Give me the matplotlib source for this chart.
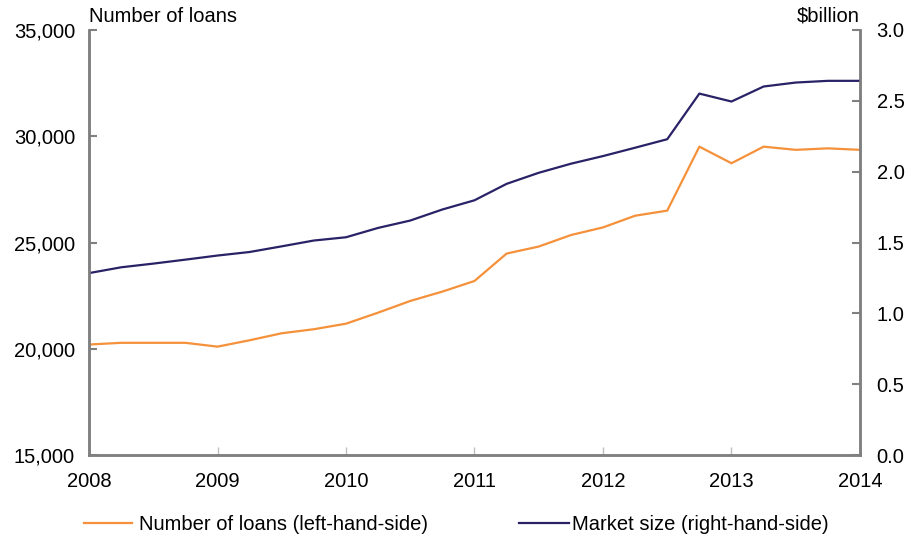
import matplotlib
matplotlib.use('Agg')
import matplotlib.pyplot as plt
import numpy as np

plt.rcParams['font.family'] = ['Liberation Sans', 'DejaVu Sans']

# quarterly observations, 2008 Q1 .. 2014 Q1
quarters = [2008 + 0.25 * i for i in range(25)]
loans = [20200, 20280, 20280, 20280, 20100, 20400, 20730, 20920, 21180,
         21700, 22250, 22690, 23190, 24480, 24810, 25350, 25710, 26260,
         26500, 29510, 28730, 29510, 29360, 29430, 29360]
market = [1.284, 1.325, 1.351, 1.379, 1.408, 1.433, 1.473, 1.514, 1.537,
          1.603, 1.655, 1.733, 1.798, 1.914, 1.992, 2.056, 2.110, 2.169,
          2.229, 2.551, 2.495, 2.601, 2.629, 2.641, 2.641]
years = [2008, 2009, 2010, 2011, 2012, 2013, 2014]
left_ticks = [15000, 20000, 25000, 30000, 35000]
right_ticks = [0.0, 0.5, 1.0, 1.5, 2.0, 2.5, 3.0]

orange = '#F5913A'
navy = '#2A2266'
grey = '#808080'
fs = 14.5

fig = plt.figure(figsize=(9.11, 5.43), dpi=100)
ax = fig.add_axes([0.0977, 0.162, 0.8463, 0.7828])
ax2 = ax.twinx()

l1, = ax.plot(quarters, loans, color=orange, lw=1.6, label='Number of loans (left-hand-side)')
l2, = ax2.plot(quarters, market, color=navy, lw=1.6, label='Market size (right-hand-side)')

ax.set_xlim(2008, 2014)
ax.set_ylim(15000, 35000)
ax2.set_ylim(0, 3.0)
ax.set_xticks(years)
ax.set_yticks(left_ticks)
ax.set_yticklabels([f'{v:,}' for v in left_ticks])
ax2.set_yticks(right_ticks)
ax2.set_yticklabels([f'{v:.1f}' for v in right_ticks])

for a in (ax, ax2):
    a.spines['top'].set_visible(False)
    for s in ('left', 'right', 'bottom'):
        a.spines[s].set_color(grey)
        a.spines[s].set_linewidth(1.8)
ax.tick_params(axis='y', direction='in', length=6, width=1.5, color=grey, pad=10, labelsize=fs)
ax.tick_params(axis='x', direction='in', length=6, width=1.0, color='#c0c0c0', pad=12, labelsize=fs)
ax2.tick_params(axis='y', direction='in', length=6, width=1.5, color=grey, pad=12, labelsize=fs)

ax.text(0.0, 1.01, 'Number of loans', transform=ax.transAxes, ha='left', va='bottom', fontsize=fs)
ax2.text(1.0, 1.01, r'\$billion', transform=ax2.transAxes, ha='right', va='bottom', fontsize=fs)

leg1 = fig.legend(handles=[l1], loc='center left', bbox_to_anchor=(84 / 911, 1 - 525 / 543),
                  frameon=False, fontsize=fs, handlelength=2.4, handletextpad=0.35,
                  borderpad=0, borderaxespad=0)
fig.legend(handles=[l2], loc='center left', bbox_to_anchor=(519 / 911, 1 - 525 / 543),
           frameon=False, fontsize=fs, handlelength=2.5, handletextpad=0.15,
           borderpad=0, borderaxespad=0)

fig.savefig('out.png', dpi=100)
